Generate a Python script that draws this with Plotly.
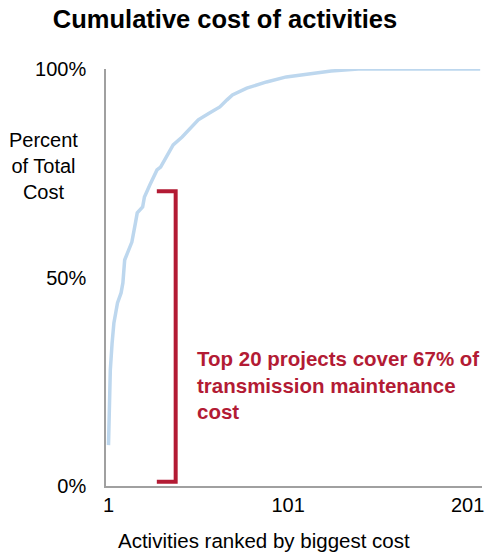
import plotly.graph_objects as go

# Data
ranks = [1, 2, 3, 4, 5, 6, 8, 9, 10, 12, 14, 16, 17, 20, 21, 24, 28, 30, 33, 37,
         42, 46, 51, 57, 63, 67, 70, 78, 89, 100, 111, 125, 140, 208]
cum_pct = [9.8, 27.8, 34.3, 39.1, 41.5, 43.9, 46.3, 48.7, 54.2, 56.6, 58.5, 63.1, 65.5,
           66.9, 69.3, 72.2, 75.8, 76.5, 78.9, 81.8, 83.7, 85.4, 87.8, 89.4, 90.9, 92.6,
           93.8, 95.4, 96.9, 98.1, 98.8, 99.5, 100.0, 100.0]
x_tick_vals = [1, 101, 201]
x_tick_text = ["1", "101", "201"]
y_tick_vals = [0, 50, 100]
y_tick_text = ["0%", "50%", "100%"]

FONT = "Liberation Sans, Arial, sans-serif"
RED = "#B31B34"

fig = go.Figure()
fig.add_trace(go.Scatter(
    x=ranks, y=cum_pct, mode="lines",
    line=dict(color="#BDD7EE", width=3.5),
    hoverinfo="skip", showlegend=False,
))

# bracket
fig.add_shape(type="path", xref="x", yref="y",
              path="M 27.9 70.7 L 38.4 70.7 L 38.4 1.0 L 27.9 1.0",
              line=dict(color=RED, width=4))

fig.add_annotation(xref="x", yref="y", x=48.9, y=24.2, xanchor="left", yanchor="middle",
                   align="left", showarrow=False,
                   text="<b>Top 20 projects cover 67% of<br>transmission maintenance<br>cost</b>",
                   font=dict(family=FONT, size=20.5, color=RED))

fig.add_annotation(xref="paper", yref="paper", x=-0.1667, y=0.767, xanchor="center",
                   yanchor="middle", align="center", showarrow=False,
                   text="Percent<br>of Total<br>Cost",
                   font=dict(family=FONT, size=20, color="#000000"))

fig.add_annotation(xref="paper", yref="paper", x=0.42, y=-0.1295, xanchor="center",
                   yanchor="middle", showarrow=False,
                   text="Activities ranked by biggest cost",
                   font=dict(family=FONT, size=20.5, color="#000000"))

fig.update_layout(
    width=491, height=554,
    margin=dict(l=106, r=7, t=69, b=68),
    paper_bgcolor="white", plot_bgcolor="white",
    title=dict(text="<b>Cumulative cost of activities</b>", x=225/491, xanchor="center",
               y=1 - 19/554, yanchor="middle",
               font=dict(family=FONT, size=25.5, color="#000000")),
    font=dict(family=FONT, size=20, color="#000000"),
    xaxis=dict(range=[-0.4, 209], tickvals=x_tick_vals, ticktext=x_tick_text,
               showgrid=False, zeroline=False, showline=True, linecolor="#A0A0A0",
               linewidth=1.5, ticks="", tickfont=dict(size=20), fixedrange=True),
    yaxis=dict(range=[0, 100], tickvals=y_tick_vals, ticktext=y_tick_text,
               showgrid=False, zeroline=False, showline=True, linecolor="#A0A0A0",
               linewidth=1.5, ticks="", tickfont=dict(size=20), ticklabelstandoff=14,
               fixedrange=True),
)

fig.write_html("out.html")
